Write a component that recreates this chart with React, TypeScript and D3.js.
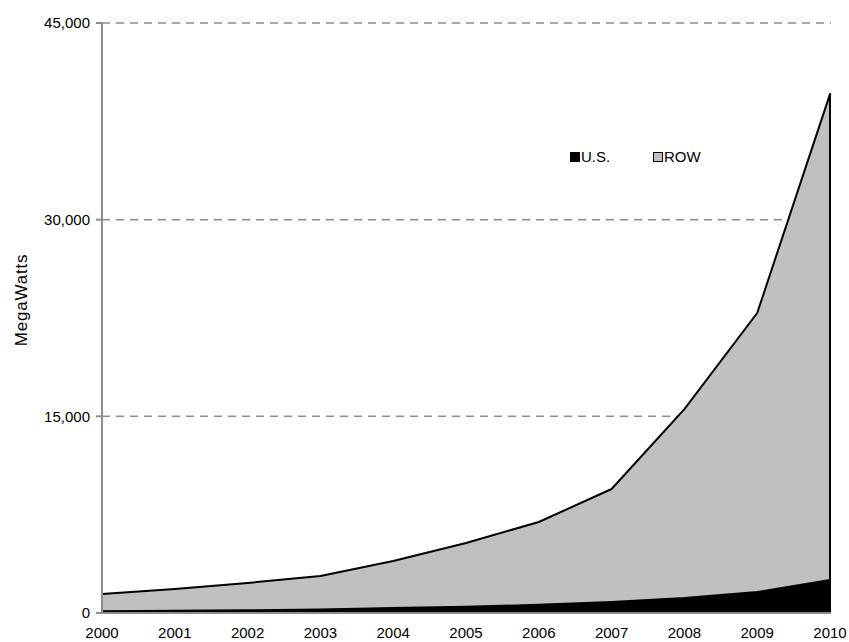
import React, { useEffect, useRef } from "react";
import * as d3 from "d3";

// cumulative installed PV capacity, MW
const years = [2000, 2001, 2002, 2003, 2004, 2005, 2006, 2007, 2008, 2009, 2010];
const usValues = [140, 170, 210, 275, 380, 480, 620, 830, 1150, 1600, 2520];
const rowValues = [1310, 1660, 2080, 2550, 3590, 4860, 6320, 8630, 14400, 21280, 37060];
const yTicks = [0, 15000, 30000, 45000];
const seriesKeys = ["us", "row"];
const seriesLabels = ["U.S.", "ROW"];
const seriesColors = ["#000000", "#c0c0c0"];

const W = 849;
const H = 642;
const margin = { top: 23, right: 19, bottom: 29, left: 102 };

const App: React.FC = () => {
  const ref = useRef<SVGSVGElement | null>(null);

  useEffect(() => {
    const svg = d3.select(ref.current);
    svg.selectAll("*").remove();

    const x = d3.scaleLinear()
      .domain([years[0], years[years.length - 1]])
      .range([margin.left, W - margin.right]);
    const y = d3.scaleLinear()
      .domain([0, 45000])
      .range([H - margin.bottom, margin.top]);

    const rows = years.map((yr, i) => ({ year: yr, us: usValues[i], row: rowValues[i] }));
    const stacked = d3.stack<any>().keys(seriesKeys)(rows);

    const font = "'Liberation Sans', Arial, sans-serif";

    // dashed grid lines
    svg.append("g")
      .selectAll("line")
      .data(yTicks.filter(t => t > 0))
      .join("line")
      .attr("x1", margin.left)
      .attr("x2", W - margin.right + 1)
      .attr("y1", d => y(d))
      .attr("y2", d => y(d))
      .attr("stroke", "#8c8c8c")
      .attr("stroke-width", 1.5)
      .attr("stroke-dasharray", "8,6");

    const area = d3.area<any>()
      .x(d => x(d.data.year))
      .y0(d => y(d[0]))
      .y1(d => y(d[1]));

    svg.append("g")
      .selectAll("path")
      .data(stacked)
      .join("path")
      .attr("d", d => area(d))
      .attr("fill", (_, i) => seriesColors[i])
      .attr("stroke", "#000")
      .attr("stroke-width", 2)
      .attr("stroke-linejoin", "round");

    // axes
    const axisColor = "#8c8c8c";
    svg.append("line")
      .attr("x1", margin.left).attr("x2", margin.left)
      .attr("y1", margin.top).attr("y2", H - margin.bottom)
      .attr("stroke", axisColor).attr("stroke-width", 2);
    svg.append("line")
      .attr("x1", margin.left).attr("x2", W - margin.right + 1)
      .attr("y1", H - margin.bottom).attr("y2", H - margin.bottom)
      .attr("stroke", axisColor).attr("stroke-width", 2);

    const yAxis = svg.append("g");
    yAxis.selectAll("line")
      .data(yTicks)
      .join("line")
      .attr("x1", margin.left - 6)
      .attr("x2", margin.left)
      .attr("y1", d => y(d))
      .attr("y2", d => y(d))
      .attr("stroke", axisColor)
      .attr("stroke-width", 2);
    yAxis.selectAll("text")
      .data(yTicks)
      .join("text")
      .attr("x", margin.left - 12)
      .attr("y", d => y(d))
      .attr("dy", "0.35em")
      .attr("text-anchor", "end")
      .style("font", `15px ${font}`)
      .text(d => d3.format(",")(d));

    svg.append("g")
      .selectAll("text")
      .data(years)
      .join("text")
      .attr("x", d => x(d))
      .attr("y", H - 4)
      .attr("text-anchor", "middle")
      .style("font", `15px ${font}`)
      .text(d => String(d));

    svg.append("text")
      .attr("transform", `translate(27,300) rotate(-90)`)
      .attr("text-anchor", "middle")
      .style("font", `17px ${font}`)
      .style("letter-spacing", "0.8px")
      .text("MegaWatts");

    // legend
    const legend = svg.append("g").attr("transform", "translate(570,157)");
    const item = legend.selectAll("g")
      .data(seriesLabels)
      .join("g")
      .attr("transform", (_, i) => `translate(${i * 83},0)`);
    item.append("rect")
      .attr("x", 0.5).attr("y", -4.5)
      .attr("width", 9).attr("height", 9)
      .attr("fill", (_, i) => seriesColors[i])
      .attr("stroke", "#000")
      .attr("stroke-width", 1);
    item.append("text")
      .attr("x", 11)
      .attr("y", 0)
      .attr("dy", "0.35em")
      .style("font", `15px ${font}`)
      .text(d => d);
  }, []);

  return (
    <svg ref={ref} width={W} height={H} style={{ display: "block", position: "absolute", left: 0, top: 0, background: "#fff" }} />
  );
};

export default App;
